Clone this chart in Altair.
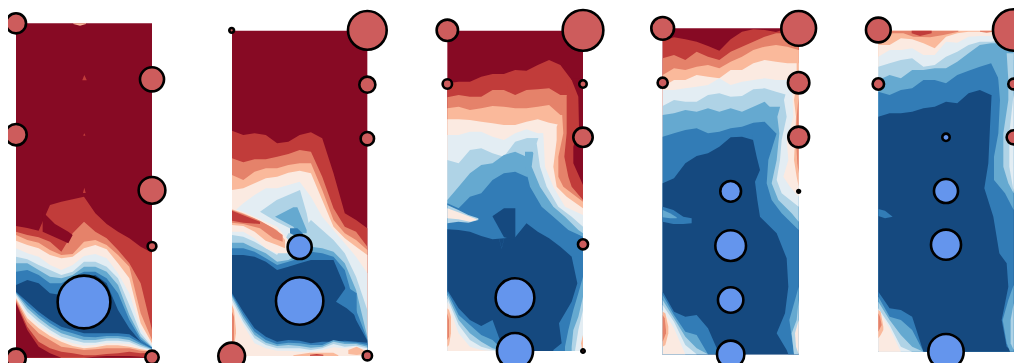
import altair as alt
import pandas as pd

LEVEL_COLORS = ["#870a24", "#c13c3a", "#e5826a", "#fab99b", "#fbeae1",
                "#e3edf3", "#afd3e6", "#65a9d0", "#327cb6", "#15497f"]
LEVELS = list(range(10))

# Panel frames, read in 3x crop units: crop offset, left, right, top, bottom
P1_FRAME = (0, 48, 456, 70, 1073)
P2_FRAME = (210, 66, 472, 92, 1068)
P3_FRAME = (425, 67, 474, 92, 1053)
P4_FRAME = (640, 68, 476, 85, 1063)
P5_FRAME = (850, 85, 491, 92, 1055)

# Contours: (level, y at 13 evenly spaced columns); each fills down to the panel floor
P1_COLS = [
    (0, [70]*13),
    (1, [678,684,692,615,605,598,590,640,672,695,715,740,758]),
    (2, [695,705,712,725,755,700,665,695,715,750,790,850,990]),
    (3, [705,720,728,750,765,762,725,720,735,765,800,940,1020]),
    (4, [722,735,745,765,775,770,745,735,748,790,835,970,1030]),
    (5, [745,760,770,795,810,795,768,762,775,820,880,985,1035]),
    (6, [770,778,795,810,825,815,785,785,800,835,915,1000,1040]),
    (7, [790,790,810,830,835,825,800,800,815,855,945,1010,1042]),
    (8, [815,810,825,850,850,830,815,815,835,880,960,1018,1043]),
    (9, [855,840,850,880,885,850,830,825,850,930,985,1025,1044]),
    (8, [875,905,935,960,980,990,1000,1000,1000,1000,1003,1025,1044]),
    (7, [878,915,945,970,990,1000,1010,1012,1008,1008,1012,1030,1046]),
    (6, [880,925,955,980,1000,1010,1020,1020,1015,1015,1020,1035,1048]),
    (5, [885,935,965,990,1010,1020,1028,1028,1022,1022,1026,1040,1050]),
    (4, [890,945,975,1000,1018,1030,1037,1035,1030,1030,1032,1045,1052]),
    (3, [895,955,985,1008,1025,1038,1045,1042,1036,1036,1040,1048,1053]),
    (2, [900,965,1000,1020,1040,1045,1050,1048,1045,1045,1045,1052,1055]),
    (1, [905,980,1025,1045,1055,1060,1066,1066,1062,1060,1055,1060,1058]),
    (0, [910,990,1040,1060,1073,1073,1073,1070,1068,1068,1068,1070,1073]),
]
# Small closed regions: (level, xs, upper ys, lower ys)
P1_PATCHES = [
    (0, [128,165,205,218], [635,672,695,705], [695,712,730,705]),
    (1, [247,253,260], [240,225,240], [241,241,241]),
    (1, [250,253,256], [406,400,406], [407,407,407]),
    (1, [249,253,257], [578,563,578], [579,579,579]),
    (3, [220,240,258], [70,70,70], [72,77,72]),
]

P2_COLS = [
    (0, [92]*13),
    (1, [392,405,400,405,430,425,405,397,415,520,640,660,685]),
    (2, [475,487,478,478,470,462,450,455,530,625,680,695,740]),
    (3, [525,540,515,505,505,495,490,490,570,660,700,720,750]),
    (4, [570,565,550,535,530,518,512,520,600,680,715,740,765]),
    (5, [640,610,585,565,565,555,545,590,650,690,730,770,820]),
    (6, [705,710,725,745,765,700,700,660,690,720,760,830,930]),
    (7, [728,728,745,760,785,780,760,740,745,755,790,870,1010]),
    (8, [745,745,755,775,795,785,775,755,760,770,810,930,1018]),
    (9, [765,765,770,785,810,800,790,780,780,780,860,960,1022]),
    (8, [880,935,985,1010,1025,1020,1022,1030,1025,1025,1022,1025,1028]),
    (7, [885,945,995,1020,1033,1028,1030,1035,1035,1020,1027,1028,1035]),
    (6, [890,955,1005,1028,1038,1035,1038,1043,1040,1025,1032,1032,1040]),
    (5, [900,965,1015,1035,1045,1045,1045,1050,1045,1032,1040,1037,1045]),
    (4, [910,975,1030,1045,1052,1052,1055,1055,1050,1042,1045,1040,1050]),
]
P2_PATCHES = [
    (6, [150,200,270,290,300], [635,600,570,640,690], [635,665,700,705,695]),
    (7, [195,250,262,290], [650,622,622,690], [650,680,700,700]),
    (8, [240,262,278], [685,685,700], [700,710,712]),
    (4, [66,100,134,167,201,235], [625,635,650,665,680,720], [695,695,715,745,760,760]),
    (3, [66,100,134,167,201,225], [628,640,655,672,690,720], [675,678,695,722,735,745]),
    (2, [66,100,150,190,218], [630,642,662,685,705], [668,672,685,715,725]),
    (1, [66,100,150], [632,646,665], [662,668,672]),
    (8, [378,410,440], [905,860,880], [905,925,950]),
    (3, [66,72,78], [915,930,990], [1055,1040,1000]),
    (2, [66,72], [935,950], [1035,1020]),
    (3, [250,300,370,385], [1066,1058,1058,1066], [1068,1068,1068,1068]),
    (3, [415,440,465], [1050,1040,1052], [1062,1065,1062]),
    (1, [300,320,340], [1064,1062,1064], [1067,1067,1067]),
]

P3_COLS = [
    (0, [92]*13),
    (1, [250,245,245,230,222,222,210,212,195,180,195,240,240]),
    (2, [292,285,290,290,270,270,285,270,268,265,285,285,285]),
    (3, [325,320,330,325,318,320,325,325,320,315,345,345,345]),
    (4, [358,358,360,365,370,375,375,365,358,368,375,375,375]),
    (5, [405,405,395,395,410,420,400,388,400,400,400,400,400]),
    (6, [480,490,450,445,460,470,425,415,415,415,415,415,415]),
    (7, [600,560,520,495,490,465,455,470,470,470,470,470,470]),
    (8, [610,625,590,580,540,520,515,530,530,530,530,530,530]),
    (9, [688,690,695,708,718,715,712,670,695,715,740,770,790]),
    (8, [870,925,960,978,960,1053,1053,1053,1053,1053,1053,1053,1053]),
    (7, [875,945,975,1005,1020,1053,1053,1053,1053,1053,1053,1053,1053]),
    (6, [885,960,1000,1025,1045,1053,1053,1053,1053,1053,1053,1053,1053]),
    (5, [895,975,1020,1040,1050,1053,1053,1053,1053,1053,1053,1053,1053]),
    (4, [905,1000,1040,1050,1053,1053,1053,1053,1053,1053,1053,1053,1053]),
]
P3_PATCHES = [
    (9, [203,237,271], [648,625,625], [650,712,720]),
    (8, [222,230,238], [715,745,712], [716,746,713]),
    (6, [67,100,130,160], [615,630,645,655], [670,665,668,660]),
    (4, [67,100,135,155], [625,637,650,658], [655,658,665,660]),
    (3, [67,72,78], [925,930,950], [1040,1035,1000]),
    (2, [67,72], [940,960], [1020,1010]),
]
# Contours that run up the right side: (level, ys, x where the level starts)
P3_SIDES = [
    (7, [455,500,560,620,650,690,710], [300,300,315,350,385,430,474]),
    (6, [415,460,500,560,620,650,690,700], [305,325,320,345,385,420,460,474]),
    (5, [400,430,500,560,620,650,680], [345,335,345,365,400,440,474]),
    (4, [375,400,500,560,620,645], [365,355,360,385,420,474]),
    (3, [345,380,420,500,560,590,625], [410,395,395,385,395,425,474]),
    (2, [285,320,400,470,530,560,605], [420,410,415,400,400,415,474]),
    (1, [240,290,400,470,530,560,600], [430,425,425,418,430,440,474]),
    (0, [235,290,380,440,490,555], [438,460,462,445,445,474]),
    (8, [770,850,905,970,1030,1050,1053], [440,457,440,402,410,385,385]),
    (7, [830,880,930,990,1040,1053], [474,460,445,430,420,420]),
    (6, [890,950,990,1040,1053], [474,460,445,440,440]),
    (5, [930,990,1053], [474,460,450]),
    (3, [1005,1030,1053], [474,468,472]),
]

P4_COLS = [
    (0, [85]*13),
    (1, [122,112,118,125,138,152,118,95,88,90,96,85,85]),
    (2, [175,165,180,155,170,180,155,140,125,110,100,100,120]),
    (3, [225,205,210,200,195,205,185,170,150,140,135,140,150]),
    (4, [260,240,240,225,230,235,210,210,190,180,185,190,190]),
    (5, [270,270,265,260,255,235,255,245,240,235,240,240,240]),
    (6, [318,300,305,305,285,280,290,288,268,265,275,285,285]),
    (7, [345,340,330,335,325,335,325,335,320,305,340,380,380]),
    (8, [410,400,390,385,400,395,385,380,368,365,400,420,420]),
    (9, [550,535,490,468,460,440,412,410,420,410,410,410,410]),
    (8, [875,935,950,945,985,1063,1063,1063,1063,1063,1063,1063,1063]),
    (7, [885,945,995,1005,1063,1063,1063,1063,1063,1063,1063,1063,1063]),
    (6, [900,955,1010,1045,1063,1063,1063,1063,1063,1063,1063,1063,1063]),
    (5, [915,965,1035,1063,1063,1063,1063,1063,1063,1063,1063,1063,1063]),
    (4, [930,985,1063,1063,1063,1063,1063,1063,1063,1063,1063,1063,1063]),
]
P4_PATCHES = [
    (8, [68,100,130,155], [620,630,650,655], [665,672,672,670]),
    (7, [68,90,110], [630,640,652], [652,655,655]),
    (3, [68,76,85], [935,940,980], [1040,1035,1000]),
    (2, [68,74,78], [945,955,990], [1025,1010,1000]),
]
P4_SIDES = [
    (8, [405,470,510,545,600,650,700,775,860,940,1000,1050,1063],
        [336,350,360,345,352,360,410,440,445,435,410,440,445]),
    (7, [320,350,400,480,550,600,640,690], [385,400,410,385,380,395,425,476]),
    (7, [860,900,960,1010,1063], [476,465,448,455,462]),
    (6, [285,350,400,480,550,600,640,665], [430,412,418,410,395,415,455,476]),
    (6, [900,960,1000,1063], [476,470,455,462]),
    (5, [270,300,350,420,480,540,580,620], [440,432,440,425,420,410,425,476]),
    (4, [960,1000,1040,1063], [476,465,468,476]),
    (4, [230,300,350,420,480,530,560,590], [455,458,460,440,445,430,450,476]),
    (3, [150,250,300,350,420,480,530,560], [470,470,462,468,465,462,470,476]),
    (2, [290,350,420,490,520], [476,470,468,472,476]),
]

P5_COLS = [
    (3, [92]*13),
    (4, [135,135,115,118,130,145,110,100,95,95,95,95,95]),
    (5, [170,150,150,145,165,165,125,128,110,108,108,105,100]),
    (6, [200,190,180,175,200,195,170,155,135,125,125,120,115]),
    (7, [240,225,235,210,210,205,205,185,160,135,130,130,130]),
    (8, [275,285,270,265,240,240,250,225,212,200,190,260,260]),
    (9, [350,340,340,335,325,320,305,310,280,270,285,285,285]),
    (8, [875,925,930,950,1055,1055,1055,1055,1055,1055,1055,1055,1055]),
    (7, [890,950,960,990,1055,1055,1055,1055,1055,1055,1055,1055,1055]),
    (6, [905,960,1005,1040,1055,1055,1055,1055,1055,1055,1055,1055,1055]),
    (5, [925,975,1040,1055,1055,1055,1055,1055,1055,1055,1055,1055,1055]),
    (4, [930,985,1055,1055,1055,1055,1055,1055,1055,1055,1055,1055,1055]),
]
P5_PATCHES = [
    (2, [125,160,190,240,280,325], [92,92,92,92,92,92], [100,100,110,112,105,95]),
    (2, [390,410,430], [92,92,92], [95,98,95]),
    (1, [185,210,245], [92,92,92], [100,108,100]),
    (8, [85,105,128], [627,632,650], [648,655,650]),
    (3, [85,92,100], [930,935,980], [1015,1005,990]),
    (2, [85,90,95], [940,950,975], [995,985,975]),
]
P5_SIDES = [
    (8, [280,380,490,565,650,760,790,860,960,1040,1055],
        [425,420,415,403,430,448,470,475,455,470,490]),
    (7, [180,240,300,400,470,540,580,630], [440,445,450,445,432,432,465,491]),
    (7, [855,900,960,1030,1055], [491,475,458,470,480]),
    (6, [160,240,300,400,500,550,580], [470,475,475,460,460,475,491]),
    (6, [910,960,1030,1050], [491,482,482,491]),
    (5, [280,400,500,575], [491,478,478,491]),
]

# Markers: (x, y, outer radius), same crop units
P1_RED = [(48,70,34),(456,238,40),(48,404,36),(456,571,44),(456,739,17),(48,1075,33),(456,1072,24)]
P1_BLUE = [(252,906,83)]
P2_RED = [(65,91,11),(472,91,62),(472,254,28),(472,416,24),(65,1068,44),(472,1067,18)]
P2_BLUE = [(269,741,40),(269,903,75)]
P3_RED = [(67,91,36),(474,91,65),(67,252,18),(474,252,15),(474,412,33),(474,733,19),(474,1053,9)]
P3_BLUE = [(270,893,62),(270,1053,58)]
P4_RED = [(68,85,38),(476,85,56),(68,248,19),(476,248,36),(476,411,35),(476,574,8)]
P4_BLUE = [(272,574,35),(272,737,50),(272,900,42),(272,1063,45)]
P5_RED = [(85,90,41),(491,90,66),(85,252,21),(491,252,20),(491,412,25)]
P5_BLUE = [(288,412,15),(288,573,40),(288,734,49),(288,1055,57)]

PANELS = [
    (P1_FRAME, P1_COLS, P1_PATCHES, [], P1_RED, P1_BLUE),
    (P2_FRAME, P2_COLS, P2_PATCHES, [], P2_RED, P2_BLUE),
    (P3_FRAME, P3_COLS, P3_PATCHES, P3_SIDES, P3_RED, P3_BLUE),
    (P4_FRAME, P4_COLS, P4_PATCHES, P4_SIDES, P4_RED, P4_BLUE),
    (P5_FRAME, P5_COLS, P5_PATCHES, P5_SIDES, P5_RED, P5_BLUE),
]

STROKE = 2.6
area_rows, side_rows, dot_rows = [], [], []
sid = 0
for frame, cols, patches, sides, reds, blues in PANELS:
    off, left, right, top, bottom = frame
    px = lambda z: off + z / 3
    step = (right - left) / 12
    for level, ys in cols:
        sid += 1
        for k, y in enumerate(ys):
            area_rows.append(dict(s=f"{sid:04d}", level=level, x=px(left + k * step), y=y, y2=bottom))
    for level, xs, y1, y2 in patches:
        sid += 1
        for x, a, b in zip(xs, y1, y2):
            area_rows.append(dict(s=f"{sid:04d}", level=level, x=px(x), y=a, y2=b))
    for level, ys, xs in sides:
        sid += 1
        for y, x in zip(ys, xs):
            side_rows.append(dict(s=f"{sid:04d}", level=level, y=y, x=px(x), x2=px(right)))
    for kind, items in (("pos", reds), ("neg", blues)):
        for x, y, r in items:
            rp = max(r / 3 - STROKE / 2, 0.6)
            dot_rows.append(dict(kind=kind, x=px(x), y=y, size=4 * rp * rp))

# The page is 1006 px wide inside its margins; marks past the edges are kept visible below.
x_scale = alt.Scale(domain=[8, 1014], range=[0, 1006], nice=False, zero=False)
y_scale = alt.Scale(domain=[1089, 24], range=[355, 0], nice=False, zero=False)
color = alt.Color("level:N", scale=alt.Scale(domain=LEVELS, range=LEVEL_COLORS), legend=None)

areas = alt.Chart(pd.DataFrame(area_rows)).mark_area(interpolate="linear", opacity=1).encode(
    x=alt.X("x:Q", scale=x_scale, axis=None),
    y=alt.Y("y:Q", scale=y_scale, axis=None),
    y2="y2:Q",
    color=color,
    detail="s:N",
)
sides = alt.Chart(pd.DataFrame(side_rows)).mark_area(interpolate="linear", opacity=1, orient="horizontal").encode(
    y=alt.Y("y:Q", scale=y_scale, axis=None),
    x=alt.X("x:Q", scale=x_scale, axis=None),
    x2="x2:Q",
    color=color,
    detail="s:N",
)
dots = alt.Chart(pd.DataFrame(dot_rows)).mark_circle(opacity=1, stroke="black", strokeWidth=STROKE).encode(
    x=alt.X("x:Q", scale=x_scale, axis=None),
    y=alt.Y("y:Q", scale=y_scale, axis=None),
    size=alt.Size("size:Q", scale=None, legend=None),
    fill=alt.Fill("kind:N", scale=alt.Scale(domain=["pos", "neg"], range=["#cd5c5c", "#6495ed"]), legend=None),
)

chart = alt.layer(areas, sides, dots).resolve_scale(color="shared").properties(
    width=1006, height=355, padding=0,
    autosize=alt.AutoSizeParams(type="none"),
    usermeta={"embedOptions": {"defaultStyle": "svg{overflow:visible} html,body{overflow:hidden}"}},
).configure_view(stroke=None)

chart.save("out.html", embed_options={"renderer": "svg", "actions": False})
